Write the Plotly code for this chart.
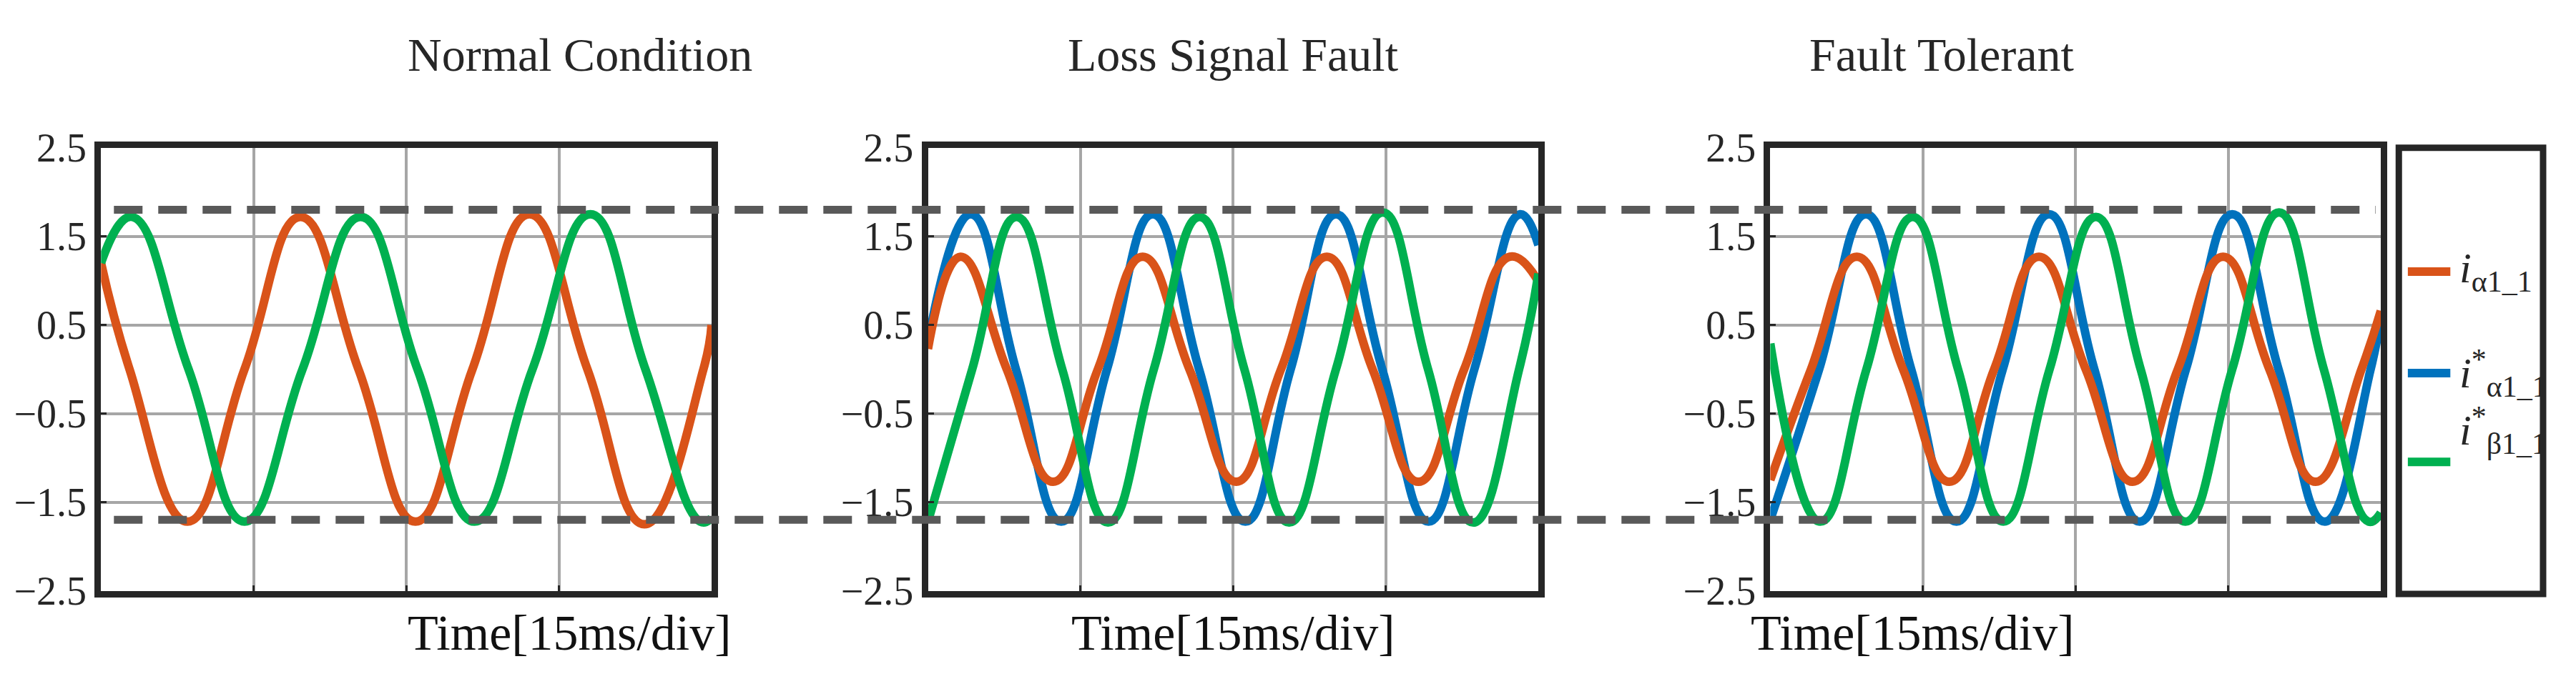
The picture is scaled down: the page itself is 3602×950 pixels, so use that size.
import plotly.graph_objects as go

# values (time in ms, current in A): peaks, troughs, zero crossings
normal_t_meas = [0, 2.8, 8.5, 14.1, 19.6, 25.3, 30.9, 36.5, 42.1, 47.8, 53.4, 59.2, 60]
normal_i_meas = [1.2, 0, -1.72, 0, 1.72, 0, -1.72, 0, 1.75, 0, -1.75, 0, 0.5]
normal_t_beta = [0, 3.0, 8.6, 14.1, 19.8, 25.5, 31.1, 36.7, 42.4, 48.1, 53.5, 58.9, 60]
normal_i_beta = [1.2, 1.72, 0, -1.72, 0, 1.72, 0, -1.72, 0, 1.75, 0, -1.72, -1.68]

loss_t_meas = [0, 3.2, 7.75, 12.3, 16.7, 21.1, 25.7, 30.3, 34.7, 39.2, 43.7, 48.2, 52.7, 57.2, 60]
loss_i_meas = [0.23, 1.27, 0, -1.27, 0, 1.27, 0, -1.27, 0, 1.27, 0, -1.27, 0, 1.27, 0.99]
loss_t_ref = [0, 4.2, 8.65, 13.1, 17.6, 22.1, 26.65, 31.2, 35.65, 40.1, 44.65, 49.2, 53.7, 58.2, 60]
loss_i_ref = [0.3, 1.75, 0, -1.72, 0, 1.75, 0, -1.72, 0, 1.75, 0, -1.72, 0, 1.75, 1.4]
loss_t_beta = [0, 4.35, 8.7, 13.2, 17.7, 22.2, 26.7, 31.1, 35.5, 40.1, 44.7, 49.15, 53.6, 58.1, 60]
loss_i_beta = [-1.72, 0, 1.72, 0, -1.73, 0, 1.72, 0, -1.73, 0, 1.77, 0, -1.73, 0, 1.08]

ft_t_meas = [0, 4.0, 8.5, 13.05, 17.6, 22.0, 26.4, 31.0, 35.6, 40.05, 44.5, 49.05, 53.6, 58.1, 60]
ft_i_meas = [-1.25, 0, 1.27, 0, -1.27, 0, 1.27, 0, -1.27, 0, 1.27, 0, -1.27, 0, 0.66]
ft_t_ref = [0, 4.8, 9.4, 13.85, 18.3, 22.85, 27.4, 31.85, 36.3, 40.85, 45.4, 49.95, 54.5, 59.0, 60]
ft_i_ref = [-1.7, 0, 1.75, 0, -1.72, 0, 1.75, 0, -1.72, 0, 1.75, 0, -1.72, 0, 0.6]
ft_t_beta = [0, 4.9, 9.45, 14.0, 18.45, 22.9, 27.45, 32.0, 36.4, 40.8, 45.4, 50.0, 54.4, 58.8, 60]
ft_i_beta = [0.29, -1.72, 0, 1.72, 0, -1.72, 0, 1.72, 0, -1.72, 0, 1.77, 0, -1.72, -1.62]

titles = ["Normal Condition", "Loss Signal Fault", "Fault Tolerant"]
y_ticks = [-2.5, -1.5, -0.5, 0.5, 1.5, 2.5]
envelope = [1.8, -1.7]
legend_labels = ["<i>i</i><sub>α1_1</sub>", "<i>i</i><sup>*</sup><sub>α1_1</sub>", "<i>i</i><sup>*</sup><sub>β1_1</sub>"]

ORANGE, BLUE, GREEN = "#D95319", "#0072BD", "#00B050"
FONT = "Liberation Serif"

panels = [
    [(normal_t_meas, normal_i_meas, ORANGE), (normal_t_beta, normal_i_beta, GREEN)],
    [(loss_t_ref, loss_i_ref, BLUE), (loss_t_meas, loss_i_meas, ORANGE), (loss_t_beta, loss_i_beta, GREEN)],
    [(ft_t_ref, ft_i_ref, BLUE), (ft_t_meas, ft_i_meas, ORANGE), (ft_t_beta, ft_i_beta, GREEN)],
]
domains = [(0.037, 0.274), (0.358, 0.595), (0.685, 0.922)]
Y0, Y1 = 0.112, 0.81

fig = go.Figure()
layout = {}
for k, (series, dom) in enumerate(zip(panels, domains)):
    sfx = "" if k == 0 else str(k + 1)
    for t, v, c in series:
        fig.add_trace(go.Scatter(x=t, y=v, mode="lines", xaxis="x" + sfx, yaxis="y" + sfx,
                                 line=dict(color=c, width=12, shape="spline", smoothing=1.3),
                                 showlegend=False))
    axline = dict(showline=True, mirror=True, linewidth=9, linecolor="#262626",
                  gridcolor="#A6A6A6", gridwidth=4, zeroline=False)
    layout["xaxis" + sfx] = dict(domain=list(dom), range=[0, 60], tickvals=[15, 30, 45],
                                 showticklabels=False, anchor="y" + sfx, ticks="inside",
                                 ticklen=8, tickwidth=3, tickcolor="#262626", **axline)
    layout["yaxis" + sfx] = dict(domain=[Y0, Y1], range=[-2.5, 2.5], tickvals=y_ticks,
                                 ticktext=[f"{v:g}".replace("-", "\u2212") for v in y_ticks],
                                 anchor="x" + sfx, ticks="inside", ticklen=8, tickwidth=3,
                                 tickcolor="#262626", tickfont=dict(size=56, family=FONT, color="#262626"),
                                 **axline)
    xc = (dom[0] + dom[1]) / 2
    fig.add_annotation(x=xc, y=1.0, xref="paper", yref="paper", text=titles[k], showarrow=False,
                       yanchor="top", font=dict(size=66, family=FONT, color="#262626"))
    fig.add_annotation(x=xc, y=0.0, xref="paper", yref="paper", text="Time[15ms/div]", showarrow=False,
                       yanchor="bottom", font=dict(size=70, family=FONT, color="#111111"))

for yv in envelope:
    fig.add_shape(type="line", xref="paper", yref="y", x0=0.042, x1=0.92, y0=yv, y1=yv,
                  line=dict(color="#595959", width=11, dash="40px,22px"))

# legend box
fig.add_shape(type="rect", xref="paper", yref="paper", x0=0.929, x1=0.985, y0=0.107, y1=Y1,
              line=dict(color="#262626", width=9), fillcolor="white")
for lbl, c, yy in zip(legend_labels, [ORANGE, BLUE, GREEN], [0.615, 0.455, 0.315]):
    fig.add_shape(type="line", xref="paper", yref="paper", x0=0.9325, x1=0.949, y0=yy, y1=yy,
                  line=dict(color=c, width=12))
    fig.add_annotation(x=0.952, y=yy, xref="paper", yref="paper", text=lbl, showarrow=False,
                       xanchor="left", font=dict(size=60, family=FONT, color="#262626"))

fig.update_layout(width=3602, height=950, margin=dict(l=0, r=0, t=0, b=0),
                  plot_bgcolor="white", paper_bgcolor="white", **layout)
fig.write_html("out.html")
